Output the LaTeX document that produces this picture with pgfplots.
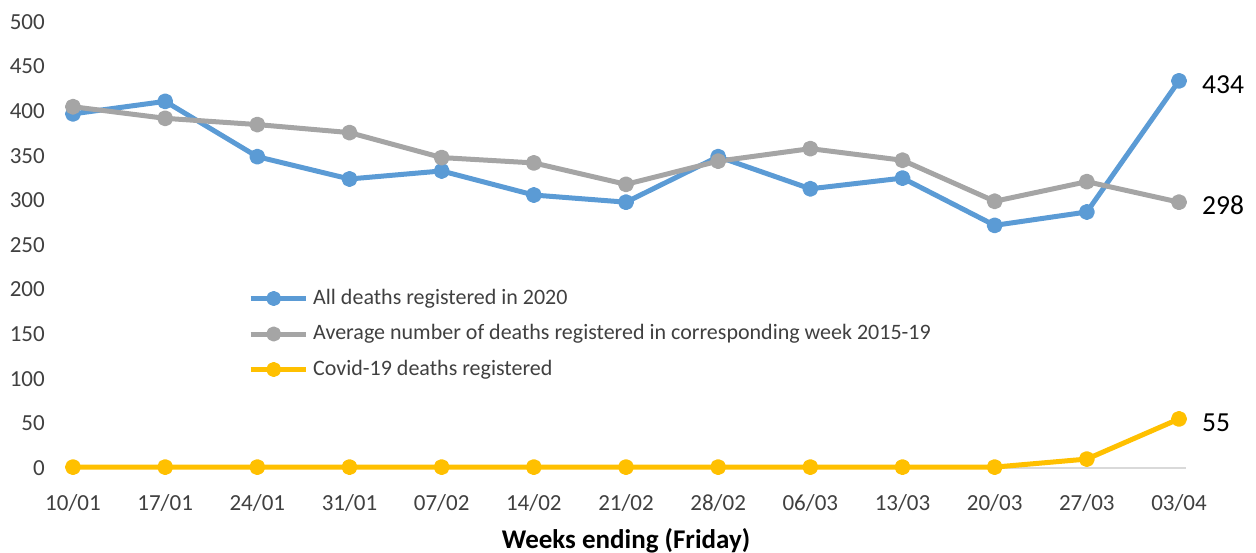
\documentclass[border=0pt]{standalone}
\usepackage{fontspec}
\setmainfont{Carlito}
\usepackage{pgfplots}
\pgfplotsset{compat=1.18}
\definecolor{cblue}{HTML}{5B9BD5}
\definecolor{cgrey}{HTML}{A5A5A5}
\definecolor{cyel}{HTML}{FFC000}
\definecolor{ctick}{HTML}{404040}
\definecolor{cbase}{HTML}{D9D9D9}
\begin{document}
\begin{tikzpicture}
\begin{axis}[
  at={(66pt,85pt)}, anchor=south west,
  scale only axis, width=1120pt, height=446pt,
  xmin=-0.076, xmax=12.076, ymin=0, ymax=500,
  clip=false,
  axis x line*=bottom, axis y line*=left,
  x axis line style={cbase, line width=2pt, -},
  y axis line style={draw=none},
  major tick length=0pt,
  xtick={0,...,12},
  xticklabels={10/01,17/01,24/01,31/01,07/02,14/02,21/02,28/02,06/03,13/03,20/03,27/03,03/04},
  ytick={0,50,...,500},
  /pgf/number format/assume math mode=true,
  every tick label/.append style={font=\fontsize{23}{27}\selectfont, text=ctick, inner sep=0pt},
  yticklabel style={xshift=-21pt},
  xticklabel style={yshift=-26pt},
  xlabel={Weeks ending (Friday)},
  xlabel style={at={(axis description cs:0.5,0)}, anchor=center, yshift=-73pt, font=\fontsize{27}{32}\selectfont\bfseries, text=black},
  legend cell align=left,
  legend image code/.code={\draw[#1, mark repeat=2, mark phase=2, mark size=5pt] plot coordinates {(0pt,0pt) (23pt,0pt) (55pt,0pt)};},
  legend style={draw=none, fill=none, inner sep=0pt, column sep=5pt, row sep=14.5pt,
    at={(axis description cs:0.1625,0.3004)}, anchor=west,
    font=\fontsize{22}{26}\selectfont, text=ctick,
    nodes={inner sep=0pt, text height=16pt, text depth=5pt}},
  every axis plot/.append style={line width=5pt, line join=round, mark=*, mark size=5.5pt, mark options={solid}},
]
\addplot[cblue] coordinates {(0,397) (1,411) (2,349) (3,324) (4,333) (5,306) (6,298) (7,349) (8,313) (9,325) (10,272) (11,287) (12,434)};
\addlegendentry{All deaths registered in 2020}
\addplot[cgrey] coordinates {(0,405) (1,392) (2,385) (3,376) (4,348) (5,342) (6,318) (7,344) (8,358) (9,345) (10,299) (11,321) (12,298)};
\addlegendentry{Average number of deaths registered in corresponding week 2015-19}
\addplot[cyel] coordinates {(0,1) (1,1) (2,1) (3,1) (4,1) (5,1) (6,1) (7,1) (8,1) (9,1) (10,1) (11,10) (12,55)};
\addlegendentry{Covid-19 deaths registered}
\node[anchor=west, inner sep=0pt, font=\fontsize{27.5}{32}\selectfont] at (axis cs:12,434) [xshift=23pt, yshift=-4pt] {434};
\node[anchor=west, inner sep=0pt, font=\fontsize{27.5}{32}\selectfont] at (axis cs:12,298) [xshift=23pt, yshift=-3pt] {298};
\node[anchor=west, inner sep=0pt, font=\fontsize{27.5}{32}\selectfont] at (axis cs:12,55) [xshift=23pt, yshift=-4pt] {55};
\end{axis}
\pgfresetboundingbox
\path (0,0) rectangle (1256pt,553pt);
\end{tikzpicture}
\end{document}
